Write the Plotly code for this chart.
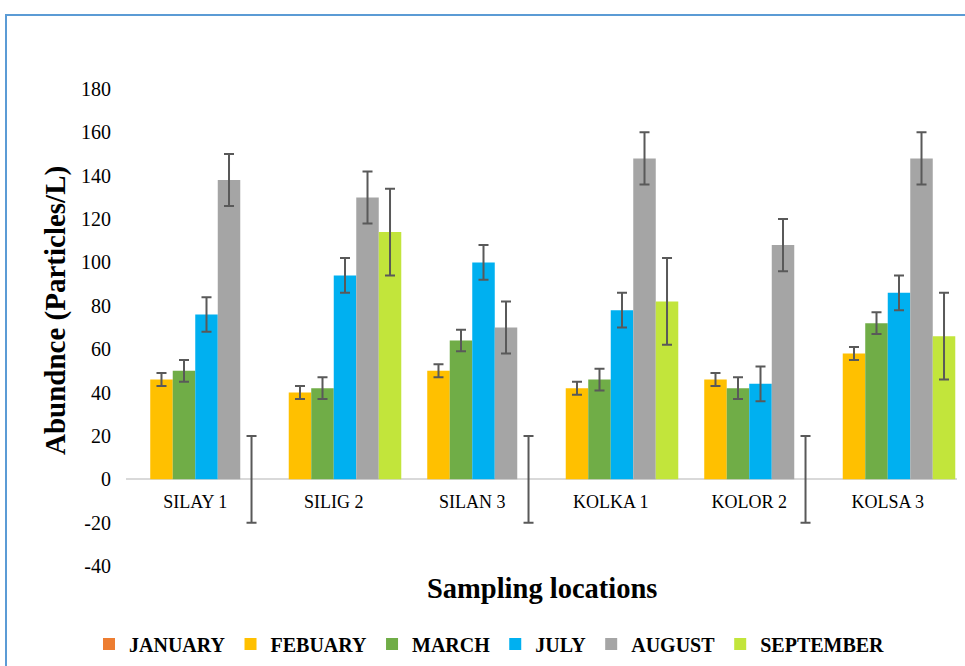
import plotly.graph_objects as go

# ---- data ----
locations = ["SILAY 1", "SILIG 2", "SILAN 3", "KOLKA 1", "KOLOR 2", "KOLSA 3"]
months = ["JANUARY", "FEBUARY", "MARCH", "JULY", "AUGUST", "SEPTEMBER"]

january = [0, 0, 0, 0, 0, 0]
febuary = [46, 40, 50, 42, 46, 58]
march = [50, 42, 64, 46, 42, 72]
july = [76, 94, 100, 78, 44, 86]
august = [138, 130, 70, 148, 108, 148]
september = [0, 114, 0, 82, 0, 66]

# fixed error amounts per series (None = no error bars)
errors = [None, 3, 5, 8, 12, 20]

y_ticks = [-40, -20, 0, 20, 40, 60, 80, 100, 120, 140, 160, 180]
y_tick_labels = ["-40", "-20", "0", "20", "40", "60", "80", "100", "120",
                 "140", "160", "180"]

# ---- style ----
colors = ["#ED7D31", "#FFC000", "#70AD47", "#00B0F0", "#A5A5A5", "#C2E53B"]
series = [january, febuary, march, july, august, september]
FONT = "Liberation Serif"

W, H = 965, 666
ML, MR, MT, MB = 126, 8, 89, 100
PW, PH = W - ML - MR, H - MT - MB


def px_x(px):
    return (px - ML) / PW


def px_y(py):
    return (H - MB - py) / PH


fig = go.Figure()
for name, vals, col, err in zip(months, series, colors, errors):
    kw = {}
    if err is not None:
        kw["error_y"] = dict(type="constant", value=err, color="#595959",
                             thickness=2, width=5)
    fig.add_trace(go.Bar(x=locations, y=vals, name=name, marker_color=col,
                         marker_line_width=0, **kw))

fig.update_layout(
    width=W, height=H,
    margin=dict(l=ML, r=MR, t=MT, b=MB, pad=0, autoexpand=False),
    paper_bgcolor="white", plot_bgcolor="white",
    barmode="group", bargap=0.025, bargroupgap=0,
    font=dict(family=FONT, color="#404040"),
    showlegend=True,
    legend=dict(orientation="h", x=px_x(89), xanchor="left",
                y=px_y(644), yanchor="middle",
                font=dict(family=FONT, size=20, color="#000000",
                          weight="bold"),
                bgcolor="rgba(0,0,0,0)"),
    xaxis=dict(anchor="free", position=px_y(479), showline=False,
               showgrid=False, zeroline=False, ticks="",
               tickfont=dict(family=FONT, size=18, color="#000000"),
               ticklabelstandoff=10),
    yaxis=dict(range=[-40, 180], tickvals=y_ticks, ticktext=y_tick_labels,
               showgrid=False,
               zeroline=True, zerolinecolor="#D9D9D9", zerolinewidth=2,
               showline=False, ticks="",
               tickfont=dict(family=FONT, size=20, color="#000000"),
               ticklabelstandoff=14),
    annotations=[
        dict(text="<b>Abundnce (Particles/L)</b>", xref="paper", yref="paper",
             x=px_x(55), y=px_y(311), textangle=-90, showarrow=False,
             xanchor="center", yanchor="middle",
             font=dict(family=FONT, size=29, color="#000000")),
        dict(text="<b>Sampling locations</b>", xref="paper", yref="paper",
             x=px_x(542), y=px_y(588), showarrow=False,
             xanchor="center", yanchor="middle",
             font=dict(family=FONT, size=28.5, color="#000000")),
    ],
    shapes=[
        dict(type="rect", xref="paper", yref="paper",
             x0=px_x(6), x1=px_x(1000), y0=px_y(720), y1=px_y(15),
             line=dict(color="#5B9BD5", width=2), fillcolor="rgba(0,0,0,0)",
             layer="below"),
    ],
)

fig.write_html("out.html",
               config={"displayModeBar": False},
               post_script="document.body.style.margin='0';")
